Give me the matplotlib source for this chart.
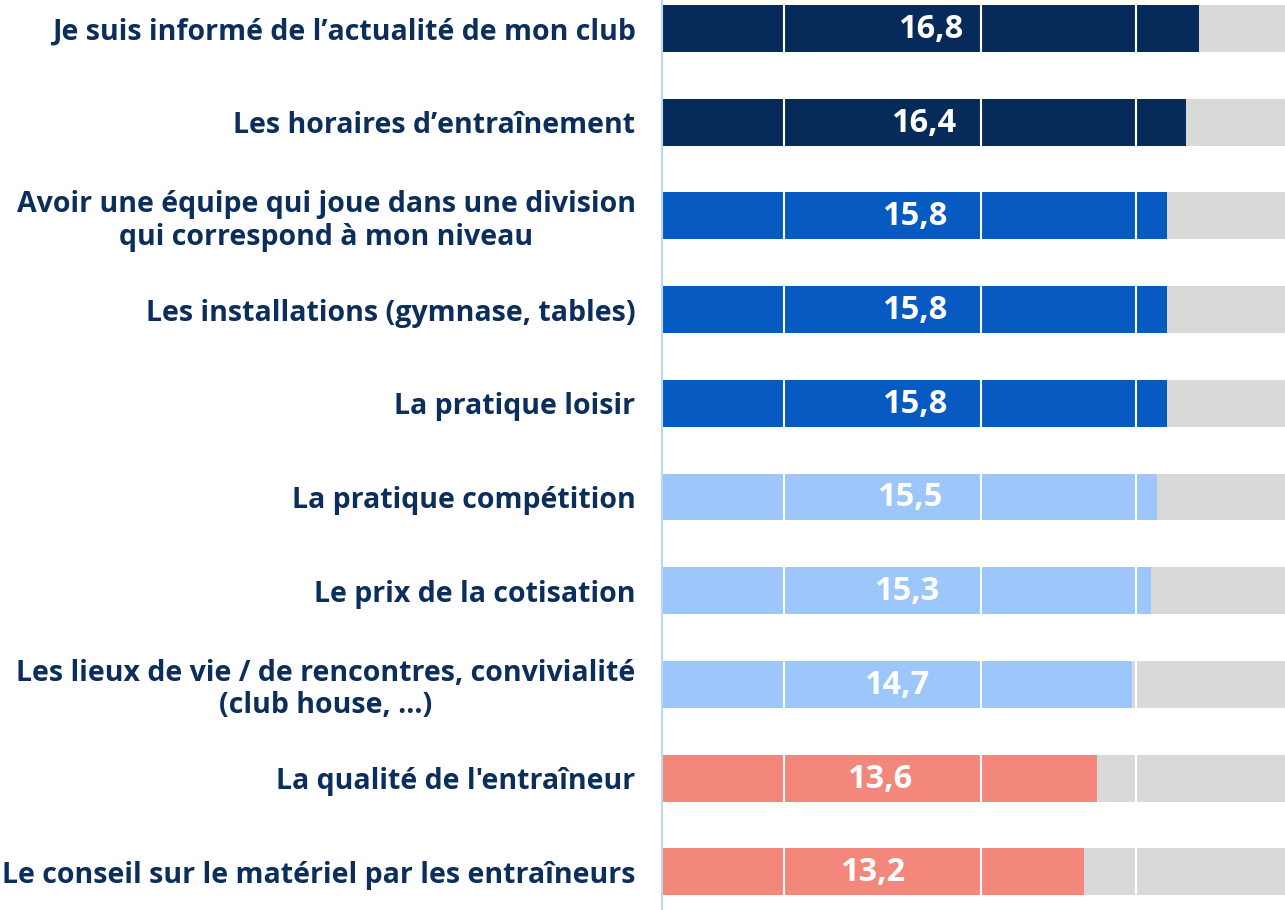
import matplotlib
matplotlib.use("Agg")
import matplotlib.pyplot as plt

categories = [
    "Je suis informé de l’actualité de mon club",
    "Les horaires d’entraînement",
    "Avoir une équipe qui joue dans une division\nqui correspond à mon niveau",
    "Les installations (gymnase, tables)",
    "La pratique loisir",
    "La pratique compétition",
    "Le prix de la cotisation",
    "Les lieux de vie / de rencontres, convivialité\n(club house, ...)",
    "La qualité de l'entraîneur",
    "Le conseil sur le matériel par les entraîneurs",
]
values = [16.8, 16.4, 15.8, 15.8, 15.8, 15.5, 15.3, 14.7, 13.6, 13.2]
value_labels = ["16,8", "16,4", "15,8", "15,8", "15,8", "15,5", "15,3", "14,7", "13,6", "13,2"]
bar_colors = ["#062A5A", "#062A5A", "#075AC1", "#075AC1", "#075AC1",
              "#9DC6FB", "#9DC6FB", "#9DC6FB", "#F4877B", "#F4877B"]
scale_max = 20
grid_positions = [3.82, 9.97, 14.85]

W, H = 1285, 910
fig = plt.figure(figsize=(W / 100, H / 100), dpi=100)
left_px = 662
ax = fig.add_axes([left_px / W, 0, 1 - left_px / W, 1])

px_per_unit = 31.95
ax.set_xlim(0, (W - left_px) / px_per_unit)
spacing = 93.7
c0 = 28.5
ax.set_ylim((H - c0) / spacing, -c0 / spacing)

ypos = list(range(len(values)))
ax.barh(ypos, [scale_max] * len(values), height=0.5, color="#D9D9D9", zorder=1)
ax.barh(ypos, values, height=0.5, color=bar_colors, zorder=2)
for g in grid_positions:
    ax.axvline(g, color="white", lw=1.5, zorder=3)

for y, v, lab in zip(ypos, values, value_labels):
    ax.text(v / 2, y + 0.01, lab, ha="center", va="center", color="white",
            fontsize=23.5, fontweight="bold", family="Open Sans", zorder=4)

ax.set_yticks(ypos)
ax.set_yticklabels(categories, fontsize=20.5, fontweight="bold", color="#0B2E5C",
                   family="Open Sans", multialignment="center", linespacing=1.15)
ax.tick_params(axis="y", length=0, pad=19)
ax.set_xticks([])
for s in ["top", "right", "bottom"]:
    ax.spines[s].set_visible(False)
ax.spines["left"].set_color("#BDD7EE")
ax.spines["left"].set_linewidth(1.5)

fig.savefig("out.png", dpi=100)
